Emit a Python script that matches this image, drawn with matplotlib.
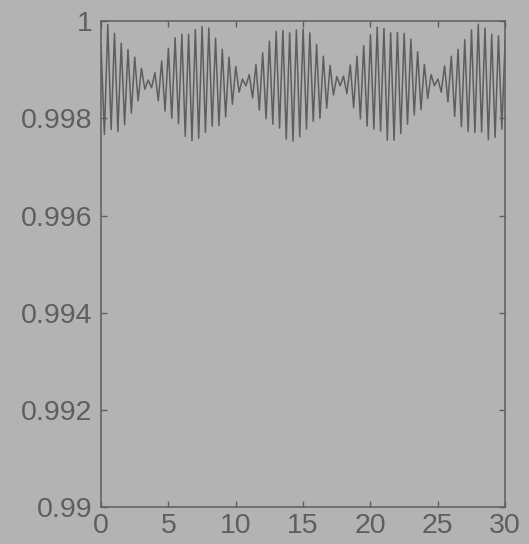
import matplotlib
matplotlib.use("Agg")
import matplotlib.pyplot as plt

# time of each sampled extremum (every quarter unit)
t_values = [i * 0.25 for i in range(121)]

signal_values = [
    0.99950, 0.99767, 0.99993, 0.99777, 0.99975, 0.99773, 0.99955, 0.99787, 0.99942, 0.99811,
    0.99926, 0.99836, 0.99903, 0.99860, 0.99879, 0.99863, 0.99894, 0.99836, 0.99918, 0.99815,
    0.99944, 0.99800, 0.99966, 0.99789, 0.99973, 0.99763, 0.99973, 0.99754, 0.99983, 0.99759,
    0.99989, 0.99771, 0.99986, 0.99784, 0.99965, 0.99785, 0.99942, 0.99803, 0.99926, 0.99829,
    0.99907, 0.99854, 0.99881, 0.99867, 0.99890, 0.99842, 0.99911, 0.99817, 0.99935, 0.99799,
    0.99959, 0.99788, 0.99979, 0.99780, 0.99981, 0.99757, 0.99976, 0.99753, 0.99982, 0.99762,
    0.99984, 0.99778, 0.99976, 0.99794, 0.99952, 0.99800, 0.99928, 0.99821, 0.99909, 0.99848,
    0.99886, 0.99867, 0.99887, 0.99851, 0.99910, 0.99822, 0.99928, 0.99799, 0.99950, 0.99784,
    0.99972, 0.99778, 0.99988, 0.99774, 0.99985, 0.99755, 0.99976, 0.99755, 0.99977, 0.99769,
    0.99975, 0.99788, 0.99963, 0.99807, 0.99937, 0.99818, 0.99911, 0.99841, 0.99890, 0.99867,
    0.99881, 0.99854, 0.99908, 0.99834, 0.99928, 0.99804, 0.99942, 0.99783, 0.99962, 0.99773,
    0.99982, 0.99771, 0.99994, 0.99772, 0.99986, 0.99756, 0.99973, 0.99761, 0.99970, 0.99778,
    0.99963,
]

x_ticks = [0, 5, 10, 15, 20, 25, 30]
x_ticklabels = ["0", "5", "10", "15", "20", "25", "30"]
y_ticks = [0.99, 0.992, 0.994, 0.996, 0.998, 1.0]
y_ticklabels = ["0.99", "0.992", "0.994", "0.996", "0.998", "1"]

bg = "#b3b3b3"
fg = "#5e5e5e"

plt.rcParams["font.family"] = ["Liberation Sans", "DejaVu Sans"]

fig = plt.figure(figsize=(5.29, 5.44), dpi=100, facecolor=bg)
ax = fig.add_axes([0.191, 0.068, 0.764, 0.893], facecolor=bg)

ax.plot(t_values, signal_values, color=fg, linewidth=1.1)

ax.set_xlim(0, 30)
ax.set_ylim(0.99, 1.0)
ax.set_xticks(x_ticks)
ax.set_xticklabels(x_ticklabels)
ax.set_yticks(y_ticks)
ax.set_yticklabels(y_ticklabels)

for s in ax.spines.values():
    s.set_color(fg)
    s.set_linewidth(1.1)

ax.tick_params(axis="both", direction="in", length=4, width=1.0, color=fg,
               labelcolor=fg, labelsize=20.5, top=True, right=True)
ax.tick_params(axis="x", pad=4)
ax.tick_params(axis="y", pad=6)

fig.savefig("out.png", dpi=100, facecolor=bg)
